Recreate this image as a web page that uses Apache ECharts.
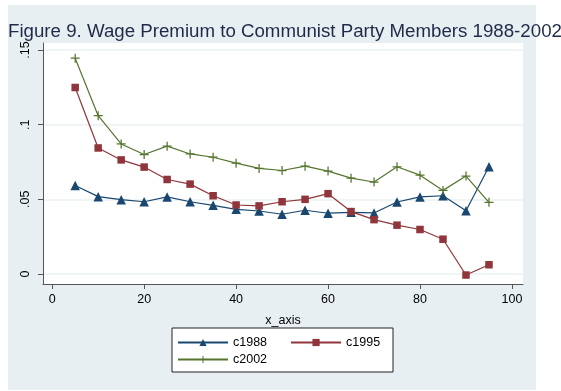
<!DOCTYPE html>
<html><head><meta charset="utf-8">
<script src="https://cdn.jsdelivr.net/npm/echarts@6/dist/echarts.min.js"></script>
<style>html,body{margin:0;padding:0;background:#fff}#c{width:561px;height:391px}</style>
</head><body><div id="c"></div>
<script>
const xValues = [5,10,15,20,25,30,35,40,45,50,55,60,65,70,75,80,85,90,95];
const c1988 = [0.0593,0.0518,0.0498,0.0484,0.0516,0.0484,0.0460,0.0433,0.0422,0.0400,0.0427,0.0407,0.0413,0.0409,0.0482,0.0516,0.0524,0.0424,0.0718];
const c1995 = [0.1249,0.0844,0.0764,0.0716,0.0633,0.0602,0.0524,0.0462,0.0456,0.0484,0.0500,0.0538,0.0418,0.0364,0.0327,0.0298,0.0233,-0.0007,0.0062];
const c2002 = [0.1445,0.1060,0.0871,0.0800,0.0856,0.0804,0.0782,0.0742,0.0707,0.0693,0.0722,0.0689,0.0642,0.0616,0.0718,0.0662,0.0560,0.0656,0.0480];
const xTicks = [0,20,40,60,80,100];
const yTicks = [0,0.05,0.1,0.15];
const yTickLabels = ['0','.05','.1','.15'];
const seriesNames = ['c1988','c1995','c2002'];

const pair = arr => xValues.map((x,i)=>[x,arr[i]]);
const plusPath = 'path://M4.3,0 H5.7 V4.3 H10 V5.7 H5.7 V10 H4.3 V5.7 H0 V4.3 H4.3 Z';
const font = 'Liberation Sans, Arial, sans-serif';
const colors = ['#1a476f','#90353b','#55752f'];

const chart = echarts.init(document.getElementById('c'), null, {renderer:'canvas'});
chart.setOption({
  animation:false,
  backgroundColor:'#ffffff',
  graphic:[
    {type:'rect', z:-10, shape:{x:8,y:5,width:528,height:385}, style:{fill:'#e8eff2'}},
    {type:'rect', z:-9, shape:{x:43,y:43,width:480,height:241}, style:{fill:'#ffffff'}},
    {type:'rect', z:-8, shape:{x:172,y:328,width:221,height:44}, style:{fill:'#ffffff', stroke:'#222', lineWidth:1}}
  ],
  title:{text:'Figure 9. Wage Premium to Communist Party Members 1988-2002', left:5, top:17, padding:[5,3],
    textStyle:{fontFamily:font, fontSize:18.7, fontWeight:'normal', color:'#1e2a48'}},
  grid:{left:43, top:43, width:480, height:241, containLabel:false},
  xAxis:{type:'value', min:-2, max:102.4,
    name:'x_axis', nameLocation:'middle', nameGap:30,
    nameTextStyle:{fontFamily:font, fontSize:12.5, color:'#000'},
    axisLine:{show:true, onZero:false, lineStyle:{color:'#555', width:1}},
    axisTick:{show:true, length:5, customValues:xTicks, lineStyle:{color:'#555'}},
    axisLabel:{customValues:xTicks, fontFamily:font, fontSize:12.5, color:'#000', margin:9},
    splitLine:{show:false}},
  yAxis:{type:'value', min:-0.0067, max:0.1547,
    axisLine:{show:true, onZero:false, lineStyle:{color:'#555', width:1}},
    axisTick:{show:true, length:5, customValues:yTicks, lineStyle:{color:'#555'}},
    axisLabel:{customValues:yTicks, rotate:90, fontFamily:font, fontSize:12.5, color:'#000', margin:11,
      formatter:v=>{const i=yTicks.findIndex(t=>Math.abs(t-v)<1e-9);return i>=0?yTickLabels[i]:'';}},
    splitLine:{show:true, lineStyle:{color:'#eaf0f2', width:1.5}}},
  legend:[
    {data:[seriesNames[0],seriesNames[1]], left:177, top:336, itemWidth:50, itemHeight:9, itemGap:23,
      textStyle:{fontFamily:font, fontSize:12.5, color:'#000'}, padding:0},
    {data:[seriesNames[2]], left:177, top:353, itemWidth:50, itemHeight:9,
      textStyle:{fontFamily:font, fontSize:12.5, color:'#000'}, padding:0}
  ],
  series:[
    {name:seriesNames[0], type:'line', data:pair(c1988), symbol:'triangle', symbolSize:9.5,
      showAllSymbol:true, clip:false, itemStyle:{color:colors[0]}, lineStyle:{color:colors[0], width:1.2}},
    {name:seriesNames[1], type:'line', data:pair(c1995), symbol:'rect', symbolSize:7.5,
      showAllSymbol:true, clip:false, itemStyle:{color:colors[1]}, lineStyle:{color:colors[1], width:1.2}},
    {name:seriesNames[2], type:'line', data:pair(c2002), symbol:plusPath, symbolSize:9,
      showAllSymbol:true, clip:false, itemStyle:{color:colors[2]}, lineStyle:{color:colors[2], width:1.2}}
  ]
});
</script></body></html>
